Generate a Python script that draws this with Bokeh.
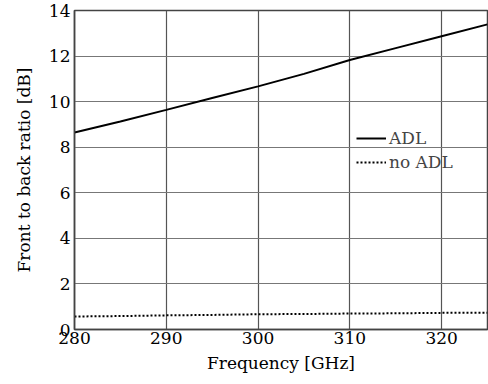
from bokeh.plotting import figure
from bokeh.models import Range1d, FixedTicker, Legend, LegendItem
from bokeh.embed import file_html
from bokeh.resources import INLINE

freq = [280, 285, 290, 295, 300, 305, 310, 315, 320, 325]
adl = [8.65, 9.13, 9.64, 10.16, 10.67, 11.22, 11.83, 12.35, 12.87, 13.39]
no_adl = [0.57, 0.59, 0.62, 0.64, 0.67, 0.68, 0.70, 0.71, 0.73, 0.74]
x_ticks = [280, 290, 300, 310, 320]
y_ticks = [0, 2, 4, 6, 8, 10, 12, 14]

FONT = "DejaVu Serif"

p = figure(width=488, height=384, output_backend="svg", toolbar_location=None,
           x_range=Range1d(280, 325), y_range=Range1d(0, 14),
           min_border_left=74, min_border_right=1, min_border_top=10, min_border_bottom=55)

r1 = p.line(freq, adl, line_color="black", line_width=2)
r2 = p.line(freq, no_adl, line_color="black", line_width=2, line_dash="2 2")

for ax in (p.xaxis[0], p.yaxis[0]):
    ax.major_label_text_font = FONT
    ax.major_label_text_font_size = "17px"
    ax.major_label_text_color = "black"
    ax.axis_label_text_font = FONT
    ax.axis_label_text_font_size = "17px"
    ax.axis_label_text_font_style = "normal"
    ax.axis_label_text_color = "black"
    ax.major_tick_out = 0
    ax.major_tick_in = 0
    ax.minor_tick_out = 0
    ax.minor_tick_in = 0
    ax.axis_line_color = "#444444"
    ax.axis_line_width = 1.5

p.xaxis[0].ticker = FixedTicker(ticks=x_ticks)
p.yaxis[0].ticker = FixedTicker(ticks=y_ticks)
p.xaxis[0].axis_label = "Frequency [GHz]"
p.yaxis[0].axis_label = "Front to back ratio [dB]"
p.xaxis[0].major_label_standoff = 2
p.yaxis[0].major_label_standoff = 4
p.xaxis[0].axis_label_standoff = 6
p.yaxis[0].axis_label_standoff = 12

p.xgrid.grid_line_color = "#555555"
p.ygrid.grid_line_color = "#777777"
p.xgrid.grid_line_width = 1.2
p.ygrid.grid_line_width = 1.2

p.outline_line_color = "#444444"
p.outline_line_width = 1.5

legend = Legend(items=[LegendItem(label="ADL", renderers=[r1]),
                       LegendItem(label="no ADL", renderers=[r2])],
                location=(282, 155), background_fill_alpha=0, border_line_alpha=0,
                label_text_font=FONT, label_text_font_size="17px",
                glyph_width=30, glyph_height=24, label_height=24, spacing=0,
                padding=0, margin=0, label_standoff=3)
p.add_layout(legend, "center")

open("out.html", "w").write(file_html(p, INLINE))
